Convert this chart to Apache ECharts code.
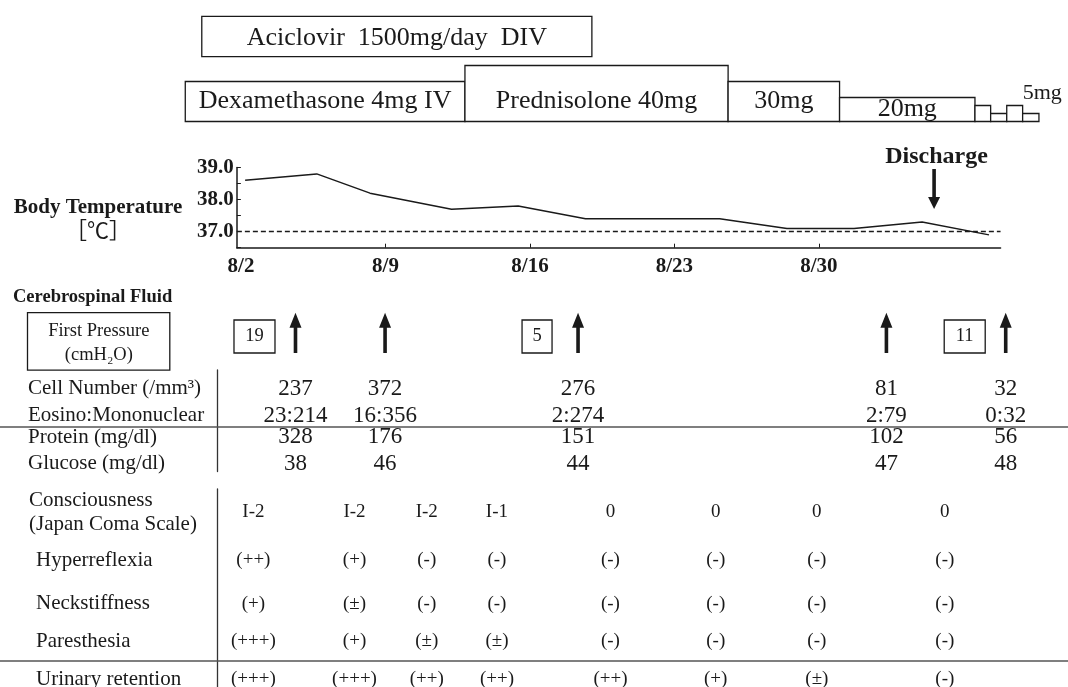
<!DOCTYPE html>
<html><head><meta charset="utf-8">
<script src="https://cdn.jsdelivr.net/npm/echarts@6/dist/echarts.min.js"></script>
<style>html,body{margin:0;padding:0;background:#fff}#c{width:1068px;height:687px}</style>
</head><body><div id="c"></div>
<script>
// ================= DATA (days counted from 8/2) =================
const dateLabels = ['8/2', '8/9', '8/16', '8/23', '8/30'];
const dateDays = [0, 7, 14, 21, 28];

const tempDays = [0.2, 3.67, 6.25, 10.2, 13.43, 16.69, 23.19, 26.45, 29.7, 33.0, 36.24];
const tempValues = [38.6, 38.8, 38.2, 37.7, 37.8, 37.4, 37.4, 37.1, 37.1, 37.3, 36.9];
const normalTemp = 37.0;
const dischargeDay = 33.58;

const aciclovirName = 'Aciclovir  1500mg/day  DIV';
const aciclovirStart = -1.9;
const aciclovirEnd = 17.0;

const steroidNames = ['Dexamethasone 4mg IV', 'Prednisolone 40mg', '30mg', '20mg', '', '', '', ''];
const steroidNotes = ['', '', '', '', '', '', '', '5mg'];
const steroidStart = [-2.7, 10.85, 23.6, 29.0, 35.56, 36.32, 37.1, 37.87];
const steroidEnd = [10.85, 23.6, 29.0, 35.56, 36.32, 37.1, 37.87, 38.66];
const steroidLevel = [30, 40, 30, 20, 15, 10, 15, 10];

const csfDays = [2.64, 6.98, 16.33, 31.27, 37.05];
const firstPressure = [19, null, 5, null, 11];
const csfRowLabels = ['Cell Number (/mm³)', 'Eosino:Mononuclear', 'Protein (mg/dl)', 'Glucose (mg/dl)'];
const cellNumber = ['237', '372', '276', '81', '32'];
const eosinoMono = ['23:214', '16:356', '2:274', '2:79', '0:32'];
const protein = ['328', '176', '151', '102', '56'];
const glucose = ['38', '46', '44', '47', '48'];

const signDays = [0.6, 5.5, 9.0, 12.4, 17.9, 23.0, 27.9, 34.1];
const signRowLabels = ['Consciousness', 'Hyperreflexia', 'Neckstiffness', 'Paresthesia', 'Urinary retention'];
const consciousness = ['I-2', 'I-2', 'I-2', 'I-1', '0', '0', '0', '0'];
const hyperreflexia = ['(++)', '(+)', '(-)', '(-)', '(-)', '(-)', '(-)', '(-)'];
const neckstiffness = ['(+)', '(±)', '(-)', '(-)', '(-)', '(-)', '(-)', '(-)'];
const paresthesia = ['(+++)', '(+)', '(±)', '(±)', '(-)', '(-)', '(-)', '(-)'];
const urinaryRetention = ['(+++)', '(+++)', '(++)', '(++)', '(++)', '(+)', '(±)', '(-)'];

// ================= LAYOUT =================
const SERIF = '"Liberation Serif", "Times New Roman", serif';
const INK = '#1a1a1a';
const PX = 20.64, X0 = 241, W = 1068;
function gridX(min, max) { return { left: X0 + min * PX, width: (max - min) * PX }; }
const FULL_MIN = -X0 / PX, FULL_MAX = (W - X0) / PX;
const LEVEL_BASE = 5, LEVEL_TOP = 40;
// table row layout (pixels from each table's top edge)
const CSF_H = 101.6, csfRowPos = [18.5, 45.5, 67, 93.5], csfSep = 57;
const SIGN_H = 198, signRowPos = [23.5, 71, 114.7, 152.5, 190.5], signSep = 171.5;
const TABLE_AXIS_X = 217;

function nearestIdx(arr, v) {
  let b = 0; arr.forEach((a, i) => { if (Math.abs(a - v) < Math.abs(arr[b] - v)) b = i; }); return b;
}
function txt(x, y, s, size, align, weight, family) {
  return { type: 'text', x: x, y: y, style: {
    text: s, fill: INK, fontSize: size, fontFamily: family || SERIF, fontWeight: weight || 'normal',
    align: align || 'center', verticalAlign: 'middle', textAlign: align || 'center', textVerticalAlign: 'middle'
  } };
}
function arrowUp(x, top, bot) {
  const hh = 15, hw = 6, sw = 1.8;
  return { type: 'polygon', shape: { points: [[x - sw, bot], [x - sw, top + hh], [x - hw, top + hh], [x, top], [x + hw, top + hh], [x + sw, top + hh], [x + sw, bot]] }, style: { fill: INK } };
}
function arrowDown(x, top, bot) {
  const hh = 12, hw = 6, sw = 1.8;
  return { type: 'polygon', shape: { points: [[x - sw, top], [x - sw, bot - hh], [x - hw, bot - hh], [x, bot], [x + hw, bot - hh], [x + sw, bot - hh], [x + sw, top]] }, style: { fill: INK } };
}

const hiddenX = (min, max, gi) => ({ type: 'value', gridIndex: gi, min: min, max: max, show: false });
const hiddenY = (min, max, gi) => ({ type: 'value', gridIndex: gi, min: min, max: max, show: false });

function tableData(days, rowPos, rows) {
  const out = [];
  rows.forEach((arr, r) => arr.forEach((v, i) => out.push([days[i], rowPos[r], v])));
  return out;
}
const sepLine = (y) => ({ silent: true, symbol: 'none', label: { show: false },
  lineStyle: { type: 'solid', color: '#555', width: 1.6 }, data: [{ yAxis: y }] });
const tableAxisLine = { show: true, onZero: false, lineStyle: { color: '#333', width: 1.3 } };
const cellLabel = (size) => ({ show: true, position: 'inside', formatter: (p) => p.value[2],
  fontFamily: SERIF, fontSize: size, color: INK, opacity: 1, textBorderWidth: 0, textShadowBlur: 0 });

const chart = echarts.init(document.getElementById('c'), null, { renderer: 'canvas' });
const option = {
  animation: false,
  backgroundColor: '#fff',
  grid: [
    Object.assign(gridX(-3, 40), { top: 16.3, height: 40.3, outerBoundsMode: 'none' }),
    Object.assign(gridX(-3, 40), { top: 65.5, height: 56, outerBoundsMode: 'none' }),
    Object.assign(gridX(-0.2, 36.8), { top: 167.5, height: 80.2, outerBoundsMode: 'none' }),
    Object.assign(gridX(FULL_MIN, FULL_MAX), { top: 312.7, height: 40.3, outerBoundsMode: 'none' }),
    Object.assign(gridX(FULL_MIN, FULL_MAX), { top: 370, height: CSF_H, outerBoundsMode: 'none' }),
    Object.assign(gridX(FULL_MIN, FULL_MAX), { top: 489, height: SIGN_H, outerBoundsMode: 'none' })
  ],
  xAxis: [
    hiddenX(-3, 40, 0),
    hiddenX(-3, 40, 1),
    { type: 'value', gridIndex: 2, min: -0.2, max: 36.8,
      axisLine: { show: true, onZero: false, lineStyle: { color: INK, width: 1.5 } },
      axisTick: { show: true, inside: true, length: 4, customValues: [7, 14, 21, 28], lineStyle: { color: INK } },
      axisLabel: { show: true, customValues: dateDays, formatter: (v) => dateLabels[nearestIdx(dateDays, v)],
        fontFamily: SERIF, fontWeight: 'bold', fontSize: 21, color: INK, margin: 8 },
      splitLine: { show: false } },
    hiddenX(FULL_MIN, FULL_MAX, 3),
    hiddenX(FULL_MIN, FULL_MAX, 4),
    hiddenX(FULL_MIN, FULL_MAX, 5)
  ],
  yAxis: [
    hiddenY(0, 1, 0),
    hiddenY(LEVEL_BASE, LEVEL_TOP, 1),
    { type: 'value', gridIndex: 2, min: 36.5, max: 39, interval: 0.5,
      axisLine: { show: true, onZero: false, lineStyle: { color: INK, width: 1.5 } },
      axisTick: { show: true, inside: true, length: 4, lineStyle: { color: INK } },
      axisLabel: { formatter: (v) => (Math.abs(v - Math.round(v)) < 1e-6 ? v.toFixed(1) : ''),
        fontFamily: SERIF, fontWeight: 'bold', fontSize: 21, color: INK, margin: 3 },
      splitLine: { show: false } },
    hiddenY(0, 1, 3),
    { type: 'value', gridIndex: 4, inverse: true, min: 0, max: CSF_H, offset: -TABLE_AXIS_X,
      axisLine: tableAxisLine, axisTick: { show: false }, splitLine: { show: false },
      axisLabel: { customValues: csfRowPos, formatter: (v) => csfRowLabels[nearestIdx(csfRowPos, v)],
        align: 'left', margin: TABLE_AXIS_X - 28, fontFamily: SERIF, fontSize: 21, color: INK } },
    { type: 'value', gridIndex: 5, inverse: true, min: 0, max: SIGN_H, offset: -TABLE_AXIS_X,
      axisLine: tableAxisLine, axisTick: { show: false }, splitLine: { show: false },
      axisLabel: { customValues: signRowPos, align: 'left', margin: TABLE_AXIS_X - 28,
        formatter: (v) => {
          const i = nearestIdx(signRowPos, v);
          return i === 0 ? '{c|' + signRowLabels[0] + '}\n{c|(Japan Coma Scale)}' : '{r|' + signRowLabels[i] + '}';
        },
        rich: {
          c: { fontFamily: SERIF, fontSize: 21, color: INK, lineHeight: 24, padding: [0, 0, 0, 1] },
          r: { fontFamily: SERIF, fontSize: 21, color: INK, lineHeight: 24, padding: [0, 0, 0, 8] }
        } } }
  ],
  graphic: { elements: [
    txt(98, 208, 'Body Temperature', 21, 'center', 'bold'),
    txt(98, 230, '［℃］', 22, 'center', 'normal', '"Noto Sans CJK JP", sans-serif'),
    txt(13, 297, 'Cerebrospinal Fluid', 18.5, 'left', 'bold'),
    { type: 'rect', shape: { x: 27.5, y: 312.7, width: 142.3, height: 57.5 }, style: { fill: '#fff', stroke: INK, lineWidth: 1.3 } },
    txt(98.8, 331, 'First Pressure', 18.5),
    txt(98.8, 355, '(cmH₂O)', 18.5)
  ] },
  series: [
    { type: 'custom', xAxisIndex: 0, yAxisIndex: 0, silent: true,
      data: [[aciclovirStart, aciclovirEnd, 1]], encode: { x: [0, 1], y: 2 },
      renderItem: (params, api) => {
        const tl = api.coord([api.value(0), 1]), br = api.coord([api.value(1), 0]);
        return { type: 'group', children: [
          { type: 'rect', shape: { x: tl[0], y: tl[1], width: br[0] - tl[0], height: br[1] - tl[1] }, style: { fill: '#fff', stroke: INK, lineWidth: 1.3 } },
          txt((tl[0] + br[0]) / 2, (tl[1] + br[1]) / 2 + 1.5, aciclovirName, 26)
        ] };
      } },
    { type: 'custom', xAxisIndex: 1, yAxisIndex: 1, silent: true,
      data: steroidStart.map((s, i) => [s, steroidEnd[i], steroidLevel[i]]), encode: { x: [0, 1], y: 2 },
      renderItem: (params, api) => {
        const i = params.dataIndex;
        const tl = api.coord([api.value(0), api.value(2)]), br = api.coord([api.value(1), LEVEL_BASE]);
        const w = br[0] - tl[0], h = br[1] - tl[1];
        const kids = [{ type: 'rect', shape: { x: tl[0], y: tl[1], width: w, height: h }, style: { fill: '#fff', stroke: INK, lineWidth: 1.3 } }];
        if (steroidNames[i]) kids.push(txt(tl[0] + w / 2, br[1] - Math.min(h, 41) / 2, steroidNames[i], 26));
        if (steroidNotes[i]) kids.push(txt(tl[0], tl[1] - 20, steroidNotes[i], 22, 'left'));
        return { type: 'group', children: kids };
      } },
    { type: 'line', xAxisIndex: 2, yAxisIndex: 2, silent: true, symbol: 'none', showSymbol: false,
      data: tempDays.map((d, i) => [d, tempValues[i]]),
      lineStyle: { color: INK, width: 1.5 }, itemStyle: { color: INK },
      markLine: { silent: true, symbol: 'none', label: { show: false },
        lineStyle: { type: [5, 3], color: INK, width: 1.3 }, data: [{ yAxis: normalTemp }] } },
    { type: 'custom', xAxisIndex: 2, yAxisIndex: 2, silent: true,
      data: [[dischargeDay, 39]],
      renderItem: (params, api) => {
        const x = api.coord([api.value(0), 39])[0];
        const top = params.coordSys.y;
        return { type: 'group', children: [
          arrowDown(x, top + 1.5, top + 41.5),
          txt(x + 2.5, top - 10.5, 'Discharge', 24, 'center', 'bold')
        ] };
      } },
    { type: 'custom', xAxisIndex: 3, yAxisIndex: 3, silent: true,
      data: csfDays.map((d) => [d, 0]),
      renderItem: (params, api) => {
        const i = params.dataIndex;
        const x = api.coord([api.value(0), 0])[0];
        const cs = params.coordSys, top = cs.y, bot = cs.y + cs.height;
        const kids = [arrowUp(x, top, bot)];
        const p = firstPressure[i];
        if (p != null) {
          const s = String(p), bw = s.length * 11 + 19, bh = 33, cx = x - 41;
          kids.push({ type: 'rect', shape: { x: cx - bw / 2, y: bot - bh, width: bw, height: bh }, style: { fill: '#fff', stroke: INK, lineWidth: 1.3 } });
          kids.push(txt(cx, bot - bh / 2, s, 18.5));
        }
        return { type: 'group', children: kids };
      } },
    { type: 'scatter', xAxisIndex: 4, yAxisIndex: 4, silent: true, symbolSize: 1,
      itemStyle: { color: 'rgba(0,0,0,0)', opacity: 1 },
      data: tableData(csfDays, csfRowPos, [cellNumber, eosinoMono, protein, glucose]),
      label: cellLabel(23),
      markLine: sepLine(csfSep) },
    { type: 'scatter', xAxisIndex: 5, yAxisIndex: 5, silent: true, symbolSize: 1,
      itemStyle: { color: 'rgba(0,0,0,0)', opacity: 1 },
      data: tableData(signDays, signRowPos, [consciousness, hyperreflexia, neckstiffness, paresthesia, urinaryRetention]),
      label: cellLabel(19),
      markLine: sepLine(signSep) }
  ]
};
chart.setOption(option);
</script></body></html>
